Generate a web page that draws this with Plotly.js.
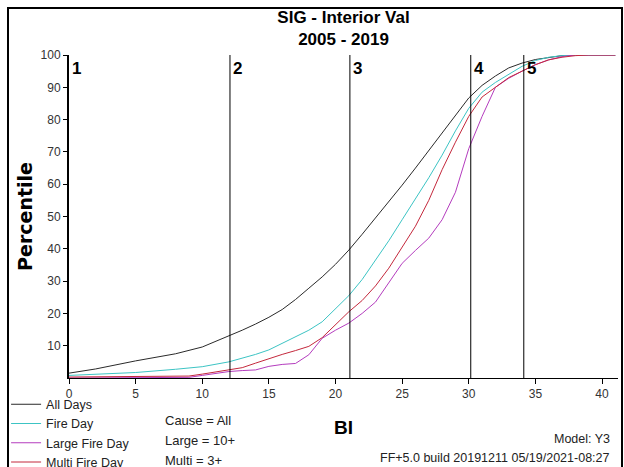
<!DOCTYPE html>
<html>
<head>
<meta charset="utf-8">
<script src="https://cdn.plot.ly/plotly-3.0.1.min.js"></script>
<style>
  html, body { margin: 0; padding: 0; background: #fff; }
  #wrap { position: relative; width: 624px; height: 467px; }
  #chart { position: absolute; left: 0; top: 0; width: 624px; height: 467px; }
  #frame { position: absolute; left: 7px; top: 7px; width: 612px; height: 470px; border: 2px solid #000; pointer-events: none; }
</style>
</head>
<body>
<div id="wrap"><div id="chart"></div><div id="frame"></div></div>
<script>
// ---- data ----
const biAll   = [0, 2, 5, 7, 8, 10, 12, 13, 14, 15, 16, 17, 18, 19, 20, 21, 22, 23, 24, 25, 26, 27, 28, 29, 30, 31, 32, 33, 34, 35, 36, 37, 38, 41];
const allDays = [1.5, 2.8, 5.3, 6.8, 7.5, 9.6, 13, 14.8, 16.7, 18.8, 21.2, 24.3, 27.8, 31.3, 35.2, 39.6, 44.5, 49.5, 54.5, 59.7, 65, 70.5, 76, 81.5, 86.7, 90.6, 93.5, 96, 97.5, 98.6, 99.3, 99.8, 100, 100];

const biFire  = [0, 2, 5, 8, 10, 12, 14, 15, 16, 17, 18, 19, 20, 21, 22, 23, 24, 25, 26, 27, 28, 29, 30, 31, 32, 33, 34, 35, 36, 37, 38, 41];
const fireDay = [0.8, 1.2, 1.7, 2.7, 3.5, 5, 7.3, 8.7, 10.7, 12.8, 14.8, 17.4, 21.5, 25.5, 30.5, 36.5, 42.5, 49, 55.5, 62, 69, 76.5, 83.5, 88.5, 91.5, 94, 96.5, 98.3, 99.3, 99.8, 100, 100];

const biLarge = [0, 5, 9, 10, 11, 12, 13, 14, 15, 16, 17, 18, 19, 20, 21, 22, 23, 24, 25, 26, 27, 28, 29, 30, 31, 32, 33, 34, 35, 36, 37, 38, 41];
const largeFireDay = [0, 0.1, 0.2, 0.8, 1.4, 2, 2.3, 2.5, 3.6, 4.2, 4.5, 7.2, 12.3, 14.8, 17, 20, 23.5, 29.5, 35.5, 39.5, 43.3, 49, 57.5, 71, 81, 90, 92.8, 95, 97, 98.5, 99.5, 100, 100];

const biMulti = [0, 5, 9, 10, 11, 12, 13, 14, 15, 16, 17, 18, 19, 20, 21, 22, 23, 24, 25, 26, 27, 28, 29, 30, 31, 32, 33, 34, 35, 36, 37, 38, 39, 41];
const multiFireDay = [0.3, 0.4, 0.6, 1.2, 1.8, 2.4, 3.2, 4.6, 6, 7.3, 8.5, 9.8, 12.5, 16.5, 20.5, 24, 28.5, 34, 40.5, 47, 55, 64.5, 73, 81, 87, 90, 93, 95, 97, 98.5, 99.3, 99.8, 100, 100];

const classBreaks = [0, 12.08, 21.08, 30.15, 34.13];
const classLabels = ["1", "2", "3", "4", "5"];
const xTicks = [0, 5, 10, 15, 20, 25, 30, 35, 40];
const yTicks = [10, 20, 30, 40, 50, 60, 70, 80, 90, 100];
const seriesNames = ["All Days", "Fire Day", "Large Fire Day", "Multi Fire Day"];
const notesLeft = ["Cause = All", "Large = 10+", "Multi = 3+"];
const notesRight = ["Model: Y3", "FF+5.0 build 20191211 05/19/2021-08:27"];

// ---- styling ----
const FONT = "Arial, 'Liberation Sans', sans-serif";
const colors = ["#2a2a2a", "#3cc4c4", "#b43cbe", "#c4283c"];

const traces = [
  {x: biAll, y: allDays},
  {x: biFire, y: fireDay},
  {x: biLarge, y: largeFireDay},
  {x: biMulti, y: multiFireDay}
].map((t, i) => ({
  type: "scatter", mode: "lines", x: t.x, y: t.y, name: seriesNames[i],
  line: {color: colors[i], width: 1}, cliponaxis: false
}));

const shapes = classBreaks.slice(1).map(b => ({
  type: "line", xref: "x", yref: "y", x0: b, x1: b, y0: 0, y1: 100,
  line: {color: "#000", width: 1}
}));

const annotations = [];
classBreaks.forEach((b, i) => annotations.push({
  xref: "x", yref: "y", x: b, y: 100, text: "<b>" + classLabels[i] + "</b>",
  showarrow: false, xanchor: "left", yanchor: "top", xshift: 1, yshift: -2,
  font: {family: FONT, size: 17, color: "#000"}
}));
const leftY = [-0.133, -0.195, -0.254];
notesLeft.forEach((t, i) => annotations.push({
  xref: "paper", yref: "paper", x: 0.171, y: leftY[i], text: t, showarrow: false,
  xanchor: "left", yanchor: "middle", font: {family: FONT, size: 13, color: "#222"}
}));
const rightY = [-0.189, -0.248];
notesRight.forEach((t, i) => annotations.push({
  xref: "paper", yref: "paper", x: 0.989, y: rightY[i], text: t, showarrow: false,
  xanchor: "right", yanchor: "middle", font: {family: FONT, size: 12.5, color: "#222"}
}));

const layout = {
  width: 624, height: 467,
  margin: {l: 69, r: 6, t: 55, b: 89, autoexpand: false},
  paper_bgcolor: "#fff", plot_bgcolor: "#fff",
  font: {family: FONT, color: "#222", size: 12},
  title: {
    text: "<b>SIG - Interior Val<br>2005 - 2019</b>",
    font: {family: FONT, size: 17, color: "#000"},
    x: 0.5, xref: "paper", y: 0.951, yref: "container", yanchor: "top"
  },
  xaxis: {
    range: [0, 41.2], tickvals: xTicks, ticks: "outside", ticklen: 5, tickcolor: "#000",
    showline: true, linecolor: "#000", linewidth: 1, showgrid: false, zeroline: false,
    tickfont: {family: FONT, size: 12, color: "#333"},
    title: {text: "<b>BI</b>", font: {family: FONT, size: 19, color: "#000"}, standoff: 20}
  },
  yaxis: {
    range: [0, 100], tickvals: yTicks, ticks: "outside", ticklen: 4, tickcolor: "#000",
    showline: true, linecolor: "#000", linewidth: 2, showgrid: false, zeroline: false,
    tickfont: {family: FONT, size: 12, color: "#333"},
    title: {text: "<b>Percentile</b>", font: {family: "'DejaVu Sans', Verdana, sans-serif", size: 19, color: "#000"}, standoff: 3}
  },
  showlegend: true,
  legend: {
    x: -0.1146, y: -0.036, xanchor: "left", yanchor: "top",
    bgcolor: "rgba(0,0,0,0)", font: {family: FONT, size: 12.5, color: "#222"},
    tracegroupgap: 0, itemwidth: 30
  },
  shapes: shapes,
  annotations: annotations
};

Plotly.newPlot("chart", traces, layout, {displayModeBar: false, staticPlot: true});
</script>
</body>
</html>
